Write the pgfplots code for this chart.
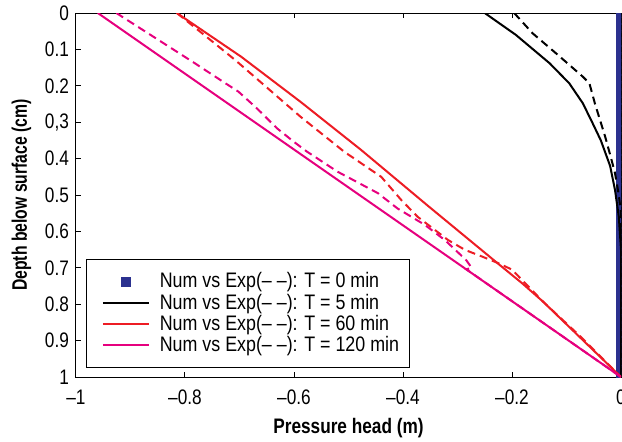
\documentclass[border=0pt]{standalone}
\usepackage{fontspec}
\setmainfont{Liberation Sans}[FakeStretch=0.82]
\newfontfamily\ylabfont{Liberation Sans}[FakeStretch=0.75]
\newfontfamily\legfont{Liberation Sans}[FakeStretch=0.85]
\usepackage{pgfplots}
\pgfplotsset{compat=1.18}
\definecolor{numblue}{RGB}{43,49,143}
\definecolor{numred}{RGB}{237,28,36}
\definecolor{nummag}{RGB}{230,0,126}
\newcommand\lblfont{\fontsize{10.5}{12}\selectfont}
\pgfplotsset{
  linelegend/.style={legend image code/.code={\draw[##1] (5pt,0pt) -- (28pt,0pt); \path (31pt,0pt);}},
  marklegend/.style={legend image code/.code={%
    \begin{pgfinterruptboundingbox}\draw[only marks,##1] plot coordinates {(16.5pt,0pt)};\end{pgfinterruptboundingbox}
    \path (0pt,0pt) (31pt,0pt);}},
}
\begin{document}
\begin{tikzpicture}
\begin{axis}[
  name=ax,
  width=272.5pt, height=182pt, scale only axis,
  xmin=-1, xmax=0, ymin=0, ymax=1, y dir=reverse,
  xtick={-1,-0.8,-0.6,-0.4,-0.2,0},
  xticklabels={–1,–0.8,–0.6,–0.4,–0.2,0},
  ytick={0,0.1,0.2,0.3,0.4,0.5,0.6,0.7,0.8,0.9,1},
  yticklabels={0,0.1,0.2,{0,3},0.4,0.5,0.6,0.7,0.8,0.9,1},
  tick pos=both, tick align=inside,
  major tick length=2.5pt,
  tick style={black, line width=0.5pt},
  axis line style={line width=0.5pt},
  ticklabel style={font=\lblfont},
  xticklabel style={yshift=-3pt},
  xlabel={\bfseries Pressure head (m)},
  ylabel={\ylabfont\bfseries Depth below surface (cm)},
  label style={font=\lblfont},
  clip marker paths=true,
  linelegend,
  legend style={at={(0.018,0.026)}, anchor=south west, draw=black,
    line width=0.5pt, font=\legfont\lblfont, cells={anchor=west}, row sep=-2.6pt,
    inner ysep=4.5pt, inner xsep=3pt},
  legend cell align=left,
]
% T = 0 min
\addplot[only marks, mark=square*, mark size=2.25pt, color=numblue, marklegend]
  coordinates {(0,0) (0,0.02) (0,0.04) (0,0.06) (0,0.08) (0,0.1) (0,0.12) (0,0.14)
  (0,0.16) (0,0.18) (0,0.2) (0,0.22) (0,0.24) (0,0.26) (0,0.28) (0,0.3) (0,0.32)
  (0,0.34) (0,0.36) (0,0.38) (0,0.4) (0,0.42) (0,0.44) (0,0.46) (0,0.48) (0,0.5)
  (0,0.52) (0,0.54) (0,0.56) (0,0.58) (0,0.6) (0,0.62) (0,0.64) (0,0.66) (0,0.68)
  (0,0.7) (0,0.72) (0,0.74) (0,0.76) (0,0.78) (0,0.8) (0,0.82) (0,0.84) (0,0.86)
  (0,0.88) (0,0.9) (0,0.92) (0,0.94) (0,0.96) (0,0.98) (0,1)};
\addlegendentry{Num vs Exp(– –): T = 0 min}
% T = 5 min
\addplot[black, line width=1pt] coordinates {(-0.25,0) (-0.193,0.06) (-0.131,0.138)
  (-0.095,0.193) (-0.070,0.248) (-0.052,0.303) (-0.037,0.35) (-0.020,0.42)
  (-0.011,0.486) (-0.004,0.56) (0,0.65) (0,1)};
\addlegendentry{Num vs Exp(– –): T = 5 min}
\addplot[black, line width=1pt, dash pattern=on 4pt off 2.5pt, forget plot]
  coordinates {(-0.196,0) (-0.162,0.056) (-0.119,0.111) (-0.07,0.175) (-0.058,0.193)
  (-0.048,0.248) (-0.029,0.34) (-0.018,0.40) (-0.011,0.44) (-0.004,0.50) (0,0.55) (0,1)};
% T = 60 min
\addplot[numred, line width=1pt] coordinates {(-0.815,0) (-0.697,0.12) (-0.588,0.244)
  (-0.477,0.376) (-0.354,0.53) (-0.226,0.688) (-0.181,0.743) (-0.143,0.793) (0,1)};
\addlegendentry{Num vs Exp(– –): T = 60 min}
\addplot[numred, line width=1pt, dash pattern=on 4pt off 2.5pt, forget plot]
  coordinates {(-0.815,0) (-0.765,0.06) (-0.708,0.129) (-0.588,0.285) (-0.508,0.381)
  (-0.44,0.45) (-0.403,0.514) (-0.373,0.56) (-0.317,0.624) (-0.286,0.651)
  (-0.255,0.669) (-0.224,0.688) (-0.2,0.705) (-0.143,0.793) (-0.07,0.895) (0,1)};
% T = 120 min
\addplot[nummag, line width=1pt, dash pattern=on 4pt off 2.5pt, forget plot]
  coordinates {(-0.926,0) (-0.783,0.137) (-0.73,0.189) (-0.702,0.216) (-0.668,0.262)
  (-0.631,0.317) (-0.601,0.353) (-0.576,0.381) (-0.52,0.436) (-0.446,0.495)
  (-0.41,0.537) (-0.36,0.582) (-0.323,0.624) (-0.284,0.679) (-0.274,0.70)
  (-0.284,0.704) (0,1)};
\addplot[nummag, line width=1pt] coordinates {(-0.96,0) (0,1)};
\addlegendentry{Num vs Exp(– –): T = 120 min}
\end{axis}
\pgfresetboundingbox
\path (ax.south west) ++(-38pt,-32pt) rectangle ++(311pt,220.5pt);
\end{tikzpicture}
\end{document}
